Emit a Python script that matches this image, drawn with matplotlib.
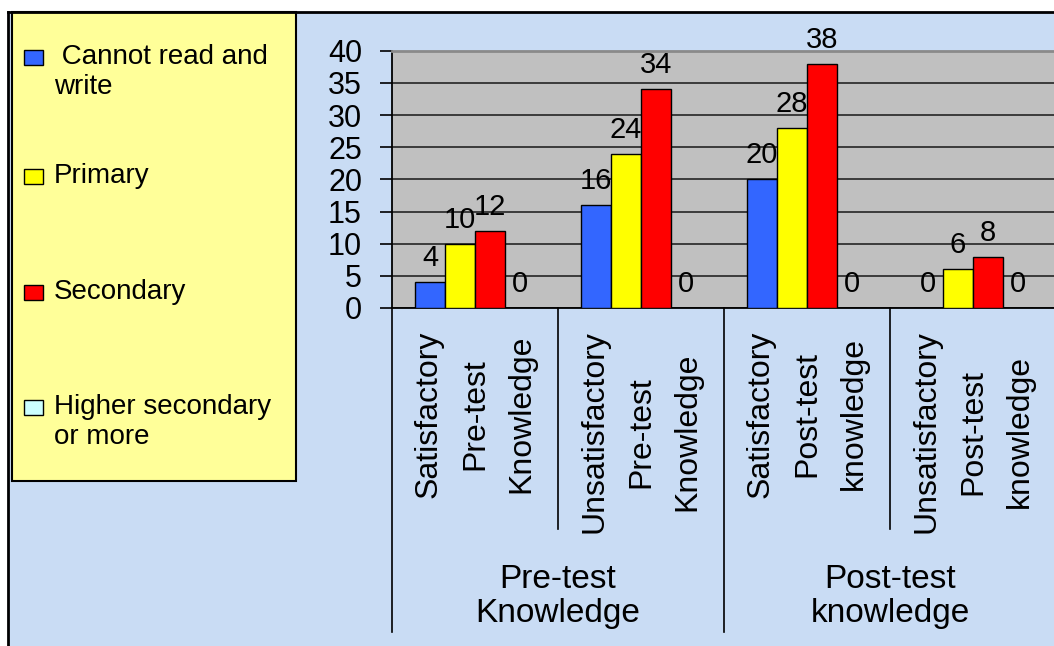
#!/usr/bin/env python3
"""Knowledge level by education: grouped bar chart with a yellow side legend."""

import matplotlib

matplotlib.use("Agg")

import matplotlib.pyplot as plt
import numpy as np
from matplotlib.patches import Rectangle
from matplotlib.lines import Line2D


SERIES = ["Cannot read and\nwrite", "Primary", "Secondary", "Higher secondary\nor more"]
COLORS = ["#3366FF", "#FFFF00", "#FF0000", "#CCFFFF"]

CATEGORIES = [
    "Satisfactory\nPre-test\nKnowledge",
    "Unsatisfactory\nPre-test\nKnowledge",
    "Satisfactory\nPost-test\nknowledge",
    "Unsatisfactory\nPost-test\nknowledge",
]
GROUPS = ["Pre-test\nKnowledge", "Post-test\nknowledge"]

CANNOT_READ = [4, 16, 20, 0]
PRIMARY = [10, 24, 28, 6]
SECONDARY = [12, 34, 38, 8]
HIGHER = [0, 0, 0, 0]

Y_TICKS = [0, 5, 10, 15, 20, 25, 30, 35, 40]

W, H = 1054, 646
BG = "#C9DCF4"
FONT = "Liberation Sans"


def fx(px):
    return px / W


def fy(py):
    return 1 - py / H


def main():
    plt.rcParams["font.family"] = [FONT, "DejaVu Sans"]

    fig = plt.figure(figsize=(W / 100, H / 100), dpi=100, facecolor="white")

    # light blue chart area with a black frame on top and left
    fig.add_artist(Rectangle((fx(8), 0), 1, fy(12), transform=fig.transFigure,
                             facecolor=BG, edgecolor="none", zorder=0))
    fig.add_artist(Line2D([fx(8), 1], [fy(12), fy(12)], transform=fig.transFigure,
                          color="black", lw=2))
    fig.add_artist(Line2D([fx(8), fx(8)], [0, fy(12)], transform=fig.transFigure,
                          color="black", lw=2))

    ax = fig.add_axes([fx(392), fy(308), fx(1056) - fx(392), fy(50.7) - fy(308)])
    ax.set_facecolor("#C0C0C0")

    values = [CANNOT_READ, PRIMARY, SECONDARY, HIGHER]
    width = 0.18
    centers = np.arange(len(CATEGORIES)) + 0.5
    for i, (vals, color) in enumerate(zip(values, COLORS)):
        xs = centers + (i - 1.5) * width
        ax.bar(xs, vals, width, color=color, edgecolor="black", linewidth=1, zorder=3)
        for x, v in zip(xs, vals):
            ax.annotate(str(v), (x, v), xytext=(0, 11.5), textcoords="offset points",
                        ha="center", va="baseline", fontsize=21, zorder=4)

    ax.set_xlim(0, len(CATEGORIES))
    ax.set_ylim(0, 40)
    ax.set_yticks(Y_TICKS)
    ax.set_xticks([])
    ax.tick_params(axis="y", length=8.6, width=1.2, pad=13, labelsize=22, direction="out")
    ax.yaxis.grid(True, color="#303030", lw=1.3)
    ax.set_axisbelow(True)
    ax.spines["right"].set_visible(False)
    ax.spines["top"].set_color("#8A8A8A")
    ax.spines["top"].set_linewidth(2)
    ax.spines["left"].set_linewidth(1.3)
    ax.spines["bottom"].set_linewidth(1.3)

    # divider lines below the axis
    axis_h = 308 - 50.7
    trans = ax.get_xaxis_transform()
    for x in [0, 2, 4]:
        ax.plot([x, x], [0, -(632 - 308) / axis_h], color="black", lw=1.2,
                transform=trans, clip_on=False)
    for x in [1, 3]:
        ax.plot([x, x], [0, -(529 - 308) / axis_h], color="black", lw=1.2,
                transform=trans, clip_on=False)

    for c, label in zip(centers, CATEGORIES):
        ax.annotate(label, (c, 0), xycoords=trans, xytext=(0, -16),
                    textcoords="offset points", rotation=90, ha="center", va="top",
                    multialignment="center", fontsize=23, linespacing=1.72)

    for g, label in enumerate(GROUPS):
        ax.annotate(label, (2 * g + 1, 0), xycoords=trans, xytext=(0, -184),
                    textcoords="offset points", ha="center", va="top",
                    multialignment="center", fontsize=24, linespacing=1.15)

    # legend box
    fig.add_artist(Rectangle((fx(12), fy(481)), fx(296) - fx(12), fy(12) - fy(481),
                             transform=fig.transFigure, facecolor="#FFFF99",
                             edgecolor="black", lw=1.5, zorder=1))
    cap_tops = [48, 167, 283, 398]
    for label, color, top in zip(SERIES, COLORS, cap_tops):
        fig.add_artist(Rectangle((fx(24), fy(top + 17)), fx(43) - fx(24), fy(top + 2) - fy(top + 17),
                                 transform=fig.transFigure, facecolor=color,
                                 edgecolor="black", lw=1, zorder=2))
        text = " " + label if label.startswith("Cannot") else label
        fig.text(fx(54), fy(top - 4), text, ha="left", va="top", fontsize=20,
                 linespacing=1.2, zorder=3)

    fig.savefig("out.png", dpi=100, facecolor=fig.get_facecolor())


if __name__ == "__main__":
    main()
